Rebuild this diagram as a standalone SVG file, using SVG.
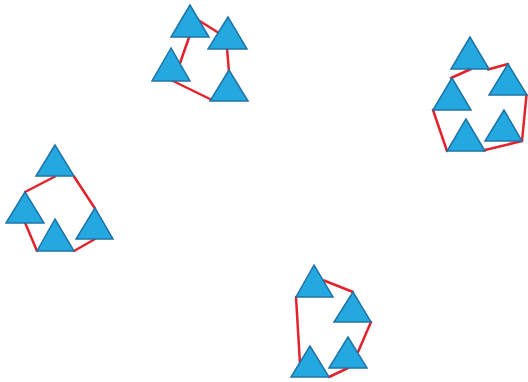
<svg xmlns="http://www.w3.org/2000/svg" width="528" height="382" viewBox="0 0 528 382">
<style>
.tri{fill:#23a8e0;stroke:#1f74a8;stroke-width:1.5;stroke-linejoin:miter}
.ln{stroke:#e3222b;stroke-width:2.5;fill:none;stroke-linecap:round}
</style>
<rect width="528" height="382" fill="#ffffff"/>
<g id="connectors">
<line class="ln" x1="195" y1="18" x2="222" y2="35"/>
<line class="ln" x1="189.5" y1="36" x2="179" y2="66"/>
<line class="ln" x1="171" y1="80" x2="212" y2="100"/>
<line class="ln" x1="227" y1="48" x2="229" y2="72"/>
<line class="ln" x1="451" y1="78" x2="471" y2="69"/>
<line class="ln" x1="488" y1="69.5" x2="508" y2="64"/>
<line class="ln" x1="526.5" y1="95" x2="522" y2="141"/>
<line class="ln" x1="522" y1="141" x2="483" y2="150.5"/>
<line class="ln" x1="433" y1="110" x2="447" y2="151"/>
<line class="ln" x1="55" y1="176.5" x2="25" y2="192"/>
<line class="ln" x1="74" y1="176.5" x2="95" y2="208.5"/>
<line class="ln" x1="25" y1="222.5" x2="37" y2="251"/>
<line class="ln" x1="74" y1="251" x2="95" y2="239"/>
<line class="ln" x1="324" y1="280.5" x2="353" y2="292"/>
<line class="ln" x1="371" y1="322" x2="358" y2="352"/>
<line class="ln" x1="296" y1="297" x2="300" y2="364"/>
<line class="ln" x1="329" y1="377" x2="348" y2="368"/>
</g>
<g id="t1a"><polygon class="tri" points="190,5 171,37 209,37"/></g>
<g id="t1b"><polygon class="tri" points="228,17 208,49 247,49"/></g>
<g id="t1c"><polygon class="tri" points="171,48 152,81 190,81"/></g>
<g id="t1d"><polygon class="tri" points="229,70 210,101 248,101"/></g>
<g id="t2a"><polygon class="tri" points="470,37 451,69 489,69"/></g>
<g id="t2b"><polygon class="tri" points="508,64 489,95 527,95"/></g>
<g id="t2c"><polygon class="tri" points="452,78 433,110 471,110"/></g>
<g id="t2d"><polygon class="tri" points="466,119 447,151 485,151"/></g>
<g id="t2e"><polygon class="tri" points="504,110 485,141 522,141"/></g>
<g id="t3a"><polygon class="tri" points="55,145 36,176 74,176"/></g>
<g id="t3b"><polygon class="tri" points="25,192 6,223 44,223"/></g>
<g id="t3c"><polygon class="tri" points="55,219 37,251 74,251"/></g>
<g id="t3d"><polygon class="tri" points="95,208 76,239 113,239"/></g>
<g id="t4a"><polygon class="tri" points="314,265 296,297 333,297"/></g>
<g id="t4b"><polygon class="tri" points="353,292 334,322 371,322"/></g>
<g id="t4c"><polygon class="tri" points="348,337 329,368 367,368"/></g>
<g id="t4d"><polygon class="tri" points="310,346 291,377 329,377"/></g>
</svg>
